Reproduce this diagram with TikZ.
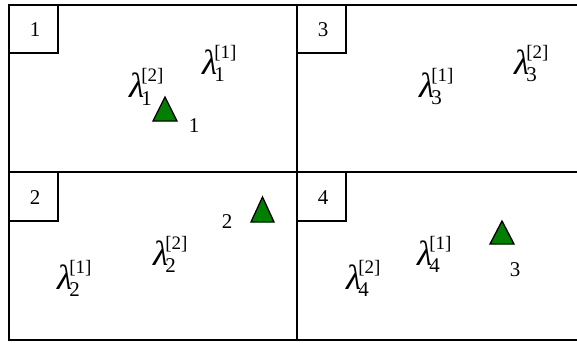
\documentclass[tikz,border=0pt]{standalone}
\usepackage{fontspec}
\setmainfont{Liberation Serif}
\newcommand\lamfont{\fontsize{35}{35}\selectfont\itshape}
\newcommand\subfnt{\fontsize{21}{21}\selectfont}
\newcommand\supfnt{\fontsize{19}{19}\selectfont}
\newcommand\lam[2]{{\lamfont λ}\kern-3pt\rlap{\raisebox{-7pt}{\subfnt #1}}\raisebox{16pt}{\supfnt[#2]}}
\definecolor{trigreen}{RGB}{0,128,0}
\tikzset{
  frame/.style={line width=1.6pt},
  lbl/.style={inner sep=0pt, font=\fontsize{21}{21}\selectfont},
  lamnode/.style={inner sep=0pt, anchor=base west},
  tri/.style={fill=trigreen, draw=black, line width=1.3pt, line join=miter}
}
\begin{document}
\begin{tikzpicture}[x=1pt,y=-1pt]
\useasboundingbox (0,0) rectangle (577,342);
% frame
\draw[frame] (590,5) -- (9,5) -- (9,340) -- (590,340);
\draw[frame] (9,172) -- (590,172);
\draw[frame] (297,5) -- (297,340);
% label boxes
\draw[frame] (9,53) -- (58,53) -- (58,5);
\draw[frame] (297,53) -- (346,53) -- (346,5);
\draw[frame] (9,221) -- (58,221) -- (58,172);
\draw[frame] (297,221) -- (346,221) -- (346,172);
\node[lbl] (b1) at (35,30) {1};
\node[lbl] (b3) at (323,30) {3};
\node[lbl] (b2) at (35,198) {2};
\node[lbl] (b4) at (323,198) {4};
% lambdas
\node[lamnode] (l11) at (202,75) {\lam{1}{1}};
\node[lamnode] (l12) at (129,98) {\lam{1}{2}};
\node[lamnode] (l31) at (419,97) {\lam{3}{1}};
\node[lamnode] (l32) at (514,75) {\lam{3}{2}};
\node[lamnode] (l22) at (153,265) {\lam{2}{2}};
\node[lamnode] (l21) at (57,289) {\lam{2}{1}};
\node[lamnode] (l41) at (417,265) {\lam{4}{1}};
\node[lamnode] (l42) at (346,289) {\lam{4}{2}};
% triangles
\draw[tri] (153,121) -- (165,97) -- (177,121) -- cycle;
\draw[tri] (251,222) -- (262.5,197) -- (274,222) -- cycle;
\draw[tri] (490,244) -- (502,221) -- (514,244) -- cycle;
\node[lbl] (t1) at (194,126) {1};
\node[lbl] (t2) at (227,222) {2};
\node[lbl] (t3) at (515,270) {3};
\end{tikzpicture}
\end{document}
